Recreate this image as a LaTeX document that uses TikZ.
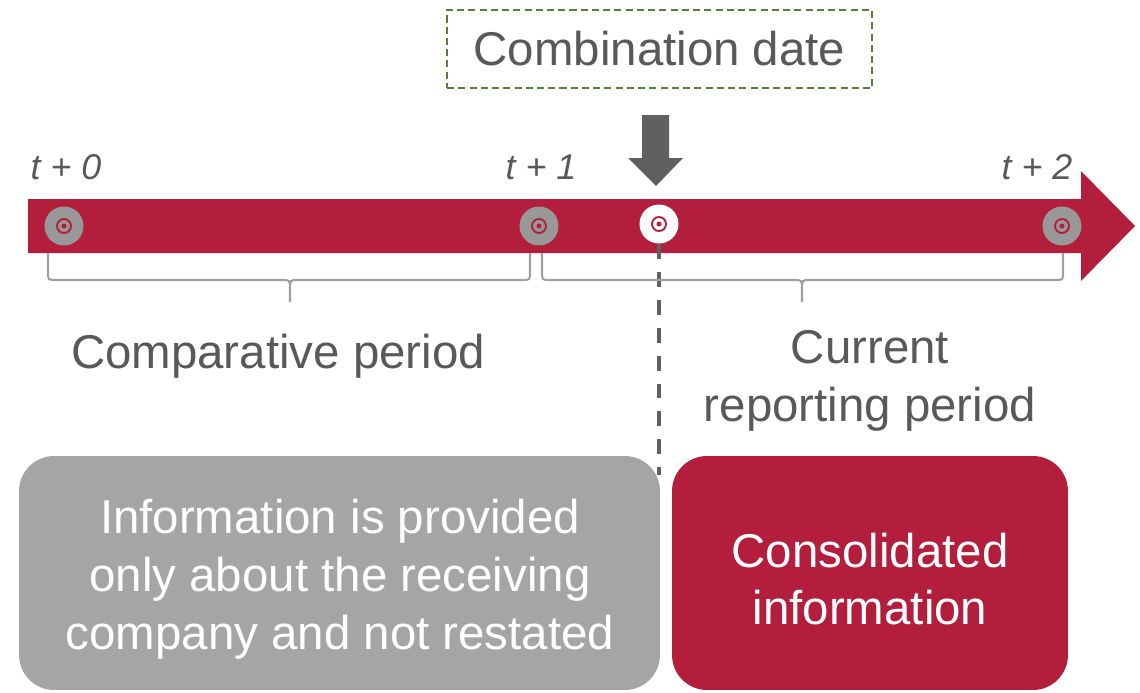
\documentclass[tikz,border=0pt]{standalone}
\usepackage{fontspec}
\setmainfont{Liberation Sans}
\definecolor{barred}{RGB}{178,30,59}
\definecolor{dotgray}{RGB}{152,152,152}
\definecolor{boxgray}{RGB}{165,165,165}
\definecolor{txtgray}{RGB}{89,89,89}
\definecolor{arrgray}{RGB}{96,96,98}
\definecolor{bracegray}{RGB}{160,160,160}
\definecolor{dategreen}{RGB}{84,130,53}

\begin{document}
\begin{tikzpicture}[x=0.02cm,y=-0.02cm,
  lbl/.style={text=txtgray,font=\fontsize{27}{32.7}\selectfont,align=center},
  tlbl/.style={text=txtgray,font=\fontsize{20.4}{24}\selectfont\itshape},
  datebox/.style={draw=dategreen,line width=0.85pt,dash pattern=on 4pt off 2.4pt,
    minimum width=8.5cm,minimum height=1.56cm},
  mark dot/.style={circle,inner sep=0pt,minimum size=0.78cm},
  infobox/.style={rounded corners=0.7cm,minimum height=4.68cm},
  infotext/.style={text=white,font=\fontsize{27}{32.9}\selectfont,align=center}]
\useasboundingbox (0,0) rectangle (1140,693);

% time line
\fill[barred] (28,199) -- (1081,199) -- (1081,171) -- (1135,226) -- (1081,281)
  -- (1081,253) -- (28,253) -- cycle;

% combination date
\node[datebox,lbl] (date) at (659.5,49) {Combination date};
\fill[arrgray] (642,115) -- (669,115) -- (669,158) -- (683,158) -- (656,186)
  -- (628,158) -- (642,158) -- cycle;
\node[mark dot,fill=white] (comb) at (659,224) {};
\draw[barred,line width=1.1pt] (comb.center) circle (7);
\fill[barred] (comb.center) circle (2.5);
\coordinate (dend) at (659,475);
\draw[arrgray,line width=2pt,dash pattern=on 8.5pt off 7.4pt] (comb.south) -- (dend);

% periods
\foreach \x/\lx/\n in {64/66/0,539/541/1,1062/1037/2}{
	\node[mark dot,fill=dotgray] (p\n) at (\x,226) {};
	\draw[barred,line width=1.1pt] (p\n.center) circle (7);
	\fill[barred] (p\n.center) circle (2.5);
	\node[tlbl] (t\n) at (\lx,167) {t + \n};
	}

% braces
\foreach \a/\m/\b in {48/290/530,542/802/1063}{
	\draw[bracegray,line width=1.2pt] (\a,253) -- (\a,272) .. controls (\a,280) .. (\a+8,280)
	  -- (\m-8,280) .. controls (\m,280) .. (\m,289) -- (\m,302)
	  (\m,289) .. controls (\m,280) .. (\m+8,280) -- (\b-8,280)
	  .. controls (\b,280) .. (\b,272) -- (\b,253);
	}
\node[lbl] (comp) at (278,356) {Comparative period};
\node[lbl] (curr) at (870,381) {Current\\reporting period};

% information
\node[infobox,fill=boxgray,minimum width=12.82cm] (old) at (339.5,573) {};
\node[infotext] (oldtxt) at (340,579)
  {Information is provided\\only about the receiving\\company and not restated};
\node[infobox,fill=barred,minimum width=7.92cm] (cons) at (870,573) {};
\node[infotext] (constxt) at (870,579) {Consolidated\\information};
\end{tikzpicture}
\end{document}
